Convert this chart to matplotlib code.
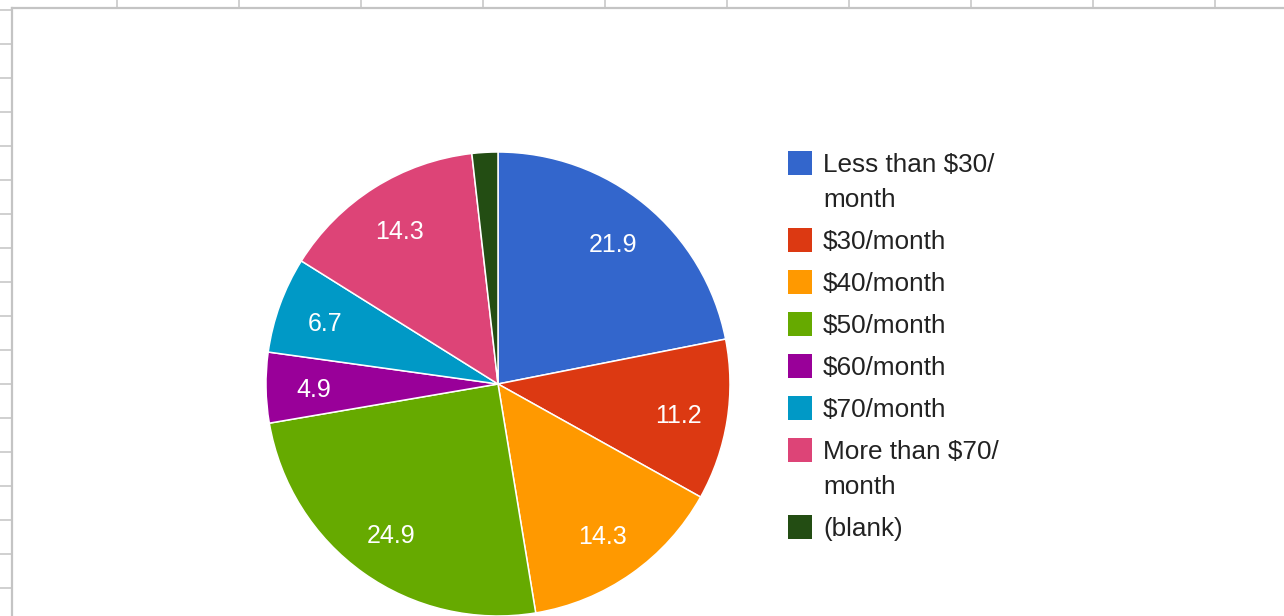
import matplotlib
matplotlib.use("Agg")
import matplotlib.pyplot as plt
from matplotlib.patches import Rectangle
from matplotlib.lines import Line2D

# data (percent of responses)
categories = ["Less than $30/\nmonth", "$30/month", "$40/month", "$50/month",
              "$60/month", "$70/month", "More than $70/\nmonth", "(blank)"]
values = [21.9, 11.2, 14.3, 24.9, 4.9, 6.7, 14.3, 1.8]
colors = ["#3366cc", "#dc3912", "#ff9900", "#66aa00",
          "#990099", "#0099c6", "#dd4477", "#234d13"]

W, H = 1284, 616
plt.rcParams["font.family"] = ["Liberation Sans", "DejaVu Sans"]

fig = plt.figure(figsize=(W / 100, H / 100), dpi=100)
ax = fig.add_axes([0, 0, 1, 1])


def py(y):
    # pixel row (from top) -> data y (from bottom)
    return H - y


# spreadsheet grid behind the chart
grid_col = "#d0d0d0"
for x in range(117, W, 122):
    ax.add_line(Line2D([x, x], [py(0), py(8)], color=grid_col, lw=1.4))
for y in range(10, H, 34):
    ax.add_line(Line2D([0, 11], [py(y), py(y)], color=grid_col, lw=1.4))
ax.add_line(Line2D([12, 12], [py(8), py(H)], color="#c4c4c4", lw=1.6))
ax.add_line(Line2D([12, W], [py(8), py(8)], color="#c4c4c4", lw=1.6))

wedges, _, autotexts = ax.pie(
    values, colors=colors, startangle=90, counterclock=False,
    center=(498, py(384)), radius=232, frame=True,
    autopct=lambda p: f"{p:.1f}" if p >= 2 else "", pctdistance=0.79,
    wedgeprops=dict(edgecolor="white", linewidth=1.1),
    textprops=dict(color="white", fontsize=18))
# labels sit a touch lower in the original
for t in autotexts:
    tx, ty = t.get_position()
    t.set_position((tx - 1, ty - 3))

# legend
y = 163
for name, col in zip(categories, colors):
    ax.add_patch(Rectangle((788, py(y) - 12), 24, 24, facecolor=col,
                           edgecolor="none"))
    for i, line in enumerate(name.split("\n")):
        ax.text(823, py(y + 2 + 35 * i), line, fontsize=18.8,
                color="#222222", va="center", ha="left")
    y += 42 + 35 * (name.count("\n"))

ax.set_xlim(0, W)
ax.set_ylim(0, H)
ax.set_aspect("auto")
ax.axis("off")

fig.savefig("out.png", dpi=100, facecolor="white")
